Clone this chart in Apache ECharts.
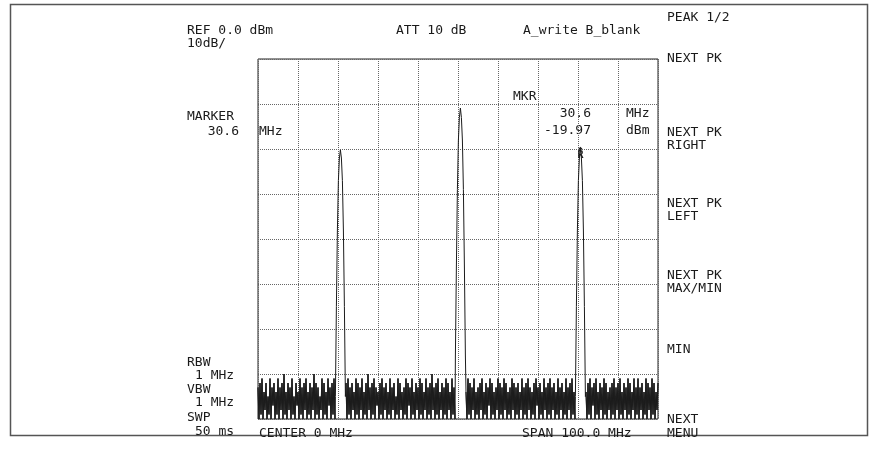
<!DOCTYPE html>
<html>
<head>
<meta charset="utf-8">
<script src="https://cdn.jsdelivr.net/npm/echarts@6/dist/echarts.min.js"></script>
<style>
html,body{margin:0;padding:0;background:#fff;}
#c{width:871px;height:451px;}
</style>
</head>
<body>
<div id="c"></div>
<script>
// ---- Axis settings (spectrum analyzer screen) ----
const freqMin = -50, freqMax = 50, freqDiv = 10;      // CENTER 0 MHz, SPAN 100 MHz
const refLevel = 0, levelMin = -80, levelDiv = 10;     // REF 0.0 dBm, 10 dB/div

// ---- Noise floor trace, sampled every 0.25 MHz from -50 MHz ----
const noiseStart = -50, noiseStep = 0.25;
const noiseLevels = [
-73,-80,-72,-79,-71,-80,-74,-78,-72,-80,-75,-79,-71,-80,-73,-77,-72,-80,-74,-79,
-71,-80,-73,-78,-72,-80,-70,-79,-74,-80,-72,-78,-73,-80,-71,-79,-75,-80,-72,-77,
-74,-80,-71,-79,-73,-80,-72,-78,-71,-80,-74,-79,-72,-80,-73,-78,-70,-80,-72,-79,
-73,-80,-75,-78,-71,-80,-72,-79,-74,-80,-71,-77,-73,-80,-72,-79,-71,-80,-74,-78,
-72,-80,-73,-79,-71,-80,-75,-78,-72,-80,-71,-79,-73,-80,-72,-78,-74,-80,-71,-79,
-72,-80,-73,-78,-71,-80,-74,-79,-72,-80,-70,-78,-73,-80,-72,-79,-71,-80,-73,-77,
-74,-80,-72,-79,-71,-80,-73,-78,-72,-80,-74,-79,-71,-80,-73,-78,-72,-80,-75,-79,
-71,-80,-72,-78,-74,-80,-73,-79,-71,-80,-72,-77,-73,-80,-71,-79,-74,-80,-72,-78,
-73,-80,-71,-79,-72,-80,-74,-78,-71,-80,-73,-79,-72,-80,-70,-78,-73,-80,-72,-79,
-71,-80,-74,-78,-72,-80,-73,-79,-71,-80,-72,-78,-74,-80,-71,-79,-73,-80,-72,-77,
-72,-80,-71,-79,-73,-80,-72,-78,-74,-80,-71,-79,-72,-80,-73,-78,-71,-80,-74,-79,
-73,-80,-72,-78,-71,-80,-74,-79,-72,-80,-73,-77,-71,-80,-72,-79,-74,-80,-73,-78,
-71,-80,-72,-79,-73,-80,-71,-78,-72,-80,-74,-79,-73,-80,-71,-78,-72,-80,-73,-79,
-72,-80,-74,-78,-71,-80,-73,-79,-72,-80,-71,-78,-73,-80,-74,-79,-72,-80,-71,-77,
-73,-80,-72,-79,-74,-80,-71,-78,-73,-80,-72,-79,-71,-80,-73,-78,-72,-80,-74,-79,
-71,-80,-73,-78,-72,-80,-74,-79,-71,-80,-73,-78,-72,-80,-71,-79,-74,-80,-72,-78,
-73,-80,-71,-79,-72,-80,-73,-78,-74,-80,-72,-79,-71,-80,-73,-77,-72,-80,-71,-79,
-74,-80,-72,-78,-73,-80,-71,-79,-72,-80,-74,-78,-73,-80,-72,-79,-71,-80,-73,-78,
-72,-80,-71,-79,-74,-80,-72,-78,-73,-80,-71,-79,-72,-80,-74,-78,-71,-80,-73,-79,
-71,-80,-73,-78,-72,-80,-74,-79,-71,-80,-72,-78,-73,-80,-71,-79,-72,-80,-74,-78,
-72
];

// ---- Three carriers (peaks) ----
const peakCenters = [-29.4, 0.6, 30.6];   // MHz
const peakOffsets = [-1.25,-1,-0.75,-0.5,-0.25,0,0.25,0.5,0.75,1,1.25]; // MHz from centre
const peak1Levels = [-75,-55,-38,-27,-22,-20.2,-22,-27,-38,-55,-75];
const peak2Levels = [-66,-46,-29,-18,-13,-10.9,-13,-18,-29,-46,-66];
const peak3Levels = [-75,-55,-38,-27,-22,-19.97,-22,-27,-38,-55,-75];

// ---- Marker ----
const markerFreq = 30.6, markerLevel = -19.97;

// ---- Build trace ----
const peakLevelSets = [peak1Levels, peak2Levels, peak3Levels];
const trace = [];
const noiseOnly = [];
noiseLevels.forEach((v, i) => {
  const f = noiseStart + i * noiseStep;
  if (peakCenters.some(c => Math.abs(f - c) <= 1.3)) { noiseOnly.push([f, null]); return; }
  trace.push([f, v]);
  noiseOnly.push([f, v]);
});
peakCenters.forEach((c, k) => {
  peakOffsets.forEach((o, j) => trace.push([c + o, peakLevelSets[k][j]]));
});
trace.sort((a, b) => a[0] - b[0]);

const FONT = '"DejaVu Sans Mono", "Liberation Mono", monospace';
const TXT = '#1a1a1a';
function t(x, y, s, align) {
  return { type: 'text', x: x, y: y, silent: true,
    style: { text: s, fill: TXT, font: '13px ' + FONT, textAlign: align || 'left', textVerticalAlign: 'middle' } };
}

const chart = echarts.init(document.getElementById('c'), null, { renderer: 'canvas' });
chart.setOption({
  animation: false,
  backgroundColor: '#fff',
  grid: { left: 258, top: 59, width: 400, height: 360, show: true, borderColor: '#222', borderWidth: 1, backgroundColor: 'transparent' },
  xAxis: {
    type: 'value', min: freqMin, max: freqMax, interval: freqDiv,
    axisLabel: { show: false }, axisTick: { show: false }, axisLine: { show: false },
    splitLine: { show: true, lineStyle: { type: 'dotted', color: '#666', width: 1 } }
  },
  yAxis: {
    type: 'value', min: levelMin, max: refLevel, interval: levelDiv,
    axisLabel: { show: false }, axisTick: { show: false }, axisLine: { show: false },
    splitLine: { show: true, lineStyle: { type: 'dotted', color: '#666', width: 1 } }
  },
  series: [{
    type: 'line',
    data: noiseOnly,
    showSymbol: false,
    symbol: 'none',
    connectNulls: false,
    lineStyle: { color: '#333', width: 1.25 },
    clip: true
  }, {
    type: 'line',
    data: trace,
    showSymbol: false,
    symbol: 'none',
    lineStyle: { color: '#1c1c1c', width: 1 },
    clip: true,
    markPoint: {
      symbol: 'diamond', symbolSize: 4,
      itemStyle: { color: '#1c1c1c' },
      label: { show: true, formatter: 'R', position: 'bottom', distance: 0, color: TXT, fontSize: 10, fontWeight: 'bold', fontFamily: FONT },
      data: [{ coord: [markerFreq, markerLevel] }]
    }
  }],
  graphic: [
    { type: 'rect', silent: true, shape: { x: 10.5, y: 4.5, width: 857, height: 431 },
      style: { fill: 'none', stroke: '#555', lineWidth: 1.5 } },
    t(187, 31, 'REF 0.0 dBm'),
    t(187, 44, '10dB/'),
    t(396, 31, 'ATT 10 dB'),
    t(523, 31, 'A_write B_blank'),
    t(187, 117, 'MARKER'),
    t(239, 132, markerFreq.toFixed(1), 'right'),
    t(259, 132, 'MHz'),
    t(513, 97, 'MKR'),
    t(591, 114, markerFreq.toFixed(1), 'right'),
    t(626, 114, 'MHz'),
    t(591, 131, markerLevel.toFixed(2), 'right'),
    t(626, 131, 'dBm'),
    t(187, 363, 'RBW'),
    t(195, 376, '1 MHz'),
    t(187, 390, 'VBW'),
    t(195, 403, '1 MHz'),
    t(187, 418, 'SWP'),
    t(195, 432, '50 ms'),
    t(259, 434, 'CENTER 0 MHz'),
    t(522, 434, 'SPAN 100.0 MHz'),
    t(667, 18, 'PEAK 1/2'),
    t(667, 59, 'NEXT PK'),
    t(667, 133, 'NEXT PK'),
    t(667, 146, 'RIGHT'),
    t(667, 204, 'NEXT PK'),
    t(667, 217, 'LEFT'),
    t(667, 276, 'NEXT PK'),
    t(667, 289, 'MAX/MIN'),
    t(667, 350, 'MIN'),
    t(667, 420, 'NEXT'),
    t(667, 434, 'MENU')
  ]
});
</script>
</body>
</html>
